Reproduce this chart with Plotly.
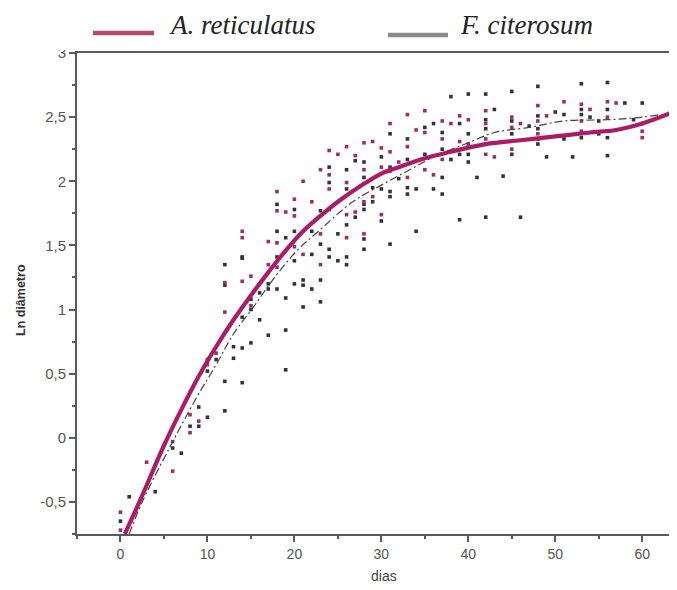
import plotly.graph_objects as go

# ---- fitted curves ----
a_curve_days = [0.5, 2.5, 5, 7, 9, 11, 13, 15, 17, 19, 21, 23, 25, 28, 30, 32, 35, 38, 42, 46, 50, 54, 57, 60, 64]
a_curve_ln = [-0.75, -0.45, -0.06, 0.22, 0.48, 0.71, 0.92, 1.11, 1.29, 1.46, 1.61, 1.73, 1.84, 1.98, 2.06, 2.11,
              2.18, 2.23, 2.29, 2.32, 2.35, 2.38, 2.40, 2.45, 2.55]

f_curve_days = [1, 2.5, 5.7, 8.8, 11, 13, 15.3, 17.5, 20.3, 22.6, 26.7, 30, 33, 36, 40, 43, 47, 51, 56, 60, 62]
f_curve_ln = [-0.75, -0.50, -0.07, 0.32, 0.57, 0.81, 1.02, 1.23, 1.46, 1.60, 1.84, 1.97, 2.08, 2.19, 2.30, 2.38,
              2.42, 2.47, 2.48, 2.50, 2.52]

# ---- observations: A. reticulatus ----
a_days = [0, 0, 3, 6, 6, 8, 8, 9, 10, 11, 12, 12, 14, 14, 14, 15, 15, 17, 17, 18, 18, 18, 18, 19,
          20, 20, 20, 21, 21, 22, 23, 23, 23, 24, 24, 24, 25, 26, 26, 26, 26, 27, 27, 28, 28, 28, 28,
          29, 29, 30, 30, 30, 31, 31, 31, 32, 33, 33, 33, 34, 35, 35, 35, 36, 37, 37, 37, 38, 39, 39,
          40, 40, 42, 42, 42, 42, 43, 45, 45, 45, 46, 48, 48, 48, 49, 51, 53, 53, 53, 54, 56, 56, 56,
          57, 60, 60, 60]
a_ln = [-0.58, -0.72, -0.19, -0.03, -0.26, 0.18, 0.04, 0.13, 0.57, 0.66, 0.98, 1.21, 1.61, 1.56, 1.22,
        1.26, 1.03, 1.53, 1.35, 1.92, 1.77, 1.52, 1.33, 1.76, 1.86, 1.73, 1.49, 2.00, 1.43, 1.84,
        2.09, 1.59, 1.35, 2.24, 2.05, 1.94, 2.21, 2.27, 1.99, 1.74, 1.56, 2.20, 1.76, 2.30, 2.09, 1.84,
        1.59, 2.31, 1.88, 2.26, 2.11, 1.74, 2.45, 2.23, 2.08, 2.15, 2.52, 2.27, 2.03, 2.40, 2.55, 2.38,
        2.09, 2.05, 2.47, 2.33, 2.17, 2.45, 2.51, 2.31, 2.48, 2.29, 2.55, 2.45, 2.33, 2.21, 2.19, 2.50,
        2.42, 2.25, 2.45, 2.59, 2.47, 2.37, 2.51, 2.62, 2.60, 2.47, 2.39, 2.56, 2.62, 2.50, 2.39, 2.61,
        2.45, 2.39, 2.34]

# ---- observations: F. citerosum ----
f_days = [0, 1, 4, 6, 7, 8, 9, 9, 10, 10, 10, 11, 12, 12, 12, 12, 13, 13, 14, 14, 14, 14, 14,
          15, 15, 15, 16, 16, 17, 17, 17, 18, 18, 18, 18, 19, 19, 19, 19, 20, 20, 20, 20, 21, 21, 21,
          22, 22, 22, 23, 23, 23, 23, 24, 24, 24, 24, 24, 25, 25, 26, 26, 26, 26, 26, 27, 27,
          28, 28, 28, 28, 28, 28, 29, 29, 30, 30, 30, 31, 31, 31, 31, 31, 32, 33, 33, 33, 33, 34, 34,
          35, 35, 36, 36, 37, 37, 37, 37, 38, 38, 39, 39, 39, 40, 40, 40, 40, 41, 42, 42, 42, 42, 42,
          43, 44, 45, 45, 45, 45, 46, 47, 48, 48, 48, 48, 48, 49, 50, 51, 51, 52, 53, 53, 53, 53,
          54, 55, 55, 56, 56, 56, 56, 58, 59, 60]
f_ln = [-0.65, -0.46, -0.42, -0.08, -0.12, 0.09, 0.24, 0.09, 0.16, 0.52, 0.61, 0.61, 0.44, 0.21, 1.35,
        1.19, 0.71, 0.62, 0.94, 0.70, 0.43, 1.41, 1.40, 0.74, 1.08, 1.00, 1.13, 0.92, 0.80, 1.20, 1.16,
        1.82, 1.61, 1.41, 1.16, 1.56, 1.09, 0.84, 0.53, 1.78, 1.61, 1.38, 1.20, 1.23, 1.19, 1.02,
        1.61, 1.43, 1.16, 1.77, 1.51, 1.23, 1.06, 2.11, 1.99, 1.78, 1.47, 1.41, 1.38, 1.59,
        2.09, 1.94, 1.66, 1.41, 1.35, 2.16, 1.72, 2.15, 2.03, 1.82, 1.78, 1.55, 1.47, 1.95, 1.84,
        2.19, 1.94, 1.69, 2.37, 2.11, 1.92, 1.88, 1.51, 2.02, 2.33, 2.17, 1.95, 1.90, 1.94, 1.61,
        2.42, 2.21, 2.45, 1.94, 2.38, 2.25, 2.03, 1.90, 2.66, 2.17, 2.45, 2.21, 1.70, 2.68, 2.37, 2.21,
        2.15, 2.03, 2.68, 2.48, 2.41, 2.29, 1.72, 2.56, 2.04, 2.70, 2.47, 2.37, 2.21, 1.72, 2.43,
        2.74, 2.51, 2.41, 2.33, 2.29, 2.19, 2.54, 2.52, 2.33, 2.19, 2.76, 2.56, 2.52, 2.34, 2.50,
        2.47, 2.37, 2.77, 2.56, 2.34, 2.20, 2.61, 2.48, 2.61]

species = ["A. reticulatus", "F. citerosum"]
x_tickvals = [0, 10, 20, 30, 40, 50, 60]
y_tickvals = [-0.5, 0, 0.5, 1, 1.5, 2, 2.5, 3]
y_ticktext = ["-0,5", "0", "0,5", "1", "1,5", "2", "2,5", "3"]

A_COL = "#ad1a66"
A_PT = "#9e2d64"
F_PT = "#333333"
AX = "#5a5a5a"
SANS = "Liberation Sans, Arial, sans-serif"
SERIF = "Liberation Serif, Times New Roman, serif"

fig = go.Figure()
fig.add_trace(go.Scatter(x=f_days, y=f_ln, mode="markers", showlegend=False,
                         marker=dict(symbol="square", size=3.6, color=F_PT, line=dict(width=0))))
fig.add_trace(go.Scatter(x=a_days, y=a_ln, mode="markers", showlegend=False,
                         marker=dict(symbol="square", size=3.6, color=A_PT, line=dict(width=0))))
fig.add_trace(go.Scatter(x=f_curve_days, y=f_curve_ln, mode="lines", name=species[1], showlegend=False,
                         line=dict(color="#444444", width=1.2, dash="8px,3px,2px,3px", shape="spline")))
fig.add_trace(go.Scatter(x=a_curve_days, y=a_curve_ln, mode="lines", name=species[0], showlegend=False,
                         line=dict(color=A_COL, width=4.2, shape="spline")))

# page body has an 8px margin: figure sits at (8, 8) in the window
OFF = 8
W, H = 677 - OFF, 590 - OFF
PL, PR, PT, PB = 77, 677, 53, 534          # plot area in window pixels
L, T = PL - OFF, PT - OFF
R = W - (PR - OFF)
B = H - (PB - OFF)
pw, ph = PR - PL, PB - PT


def px(xw):
    return (xw - PL) / pw


def py(yw):
    return (PB - yw) / ph


shapes = [
    dict(type="rect", xref="paper", yref="paper", x0=-0.2, x1=1.05, y0=py(50), y1=py(-10),
         fillcolor="white", line=dict(width=0), layer="above"),
    dict(type="line", xref="paper", yref="paper", x0=px(93), x1=px(154), y0=py(33), y1=py(33),
         line=dict(color="#b34a6e", width=4.5), layer="above"),
    dict(type="line", xref="paper", yref="paper", x0=px(388), x1=px(448), y0=py(35), y1=py(35),
         line=dict(color="#8c8c8c", width=4.5), layer="above"),
]

annotations = [
    dict(text=species[0], xref="paper", yref="paper", x=px(168), y=py(25), xanchor="left", yanchor="middle",
         showarrow=False, borderpad=0, font=dict(family=SERIF, size=27, color="#222222", style="italic")),
    dict(text=species[1], xref="paper", yref="paper", x=px(459), y=py(25), xanchor="left", yanchor="middle",
         showarrow=False, borderpad=0, font=dict(family=SERIF, size=27, color="#222222", style="italic")),
    dict(text="<b>Ln diâmetro</b>", xref="paper", yref="paper", x=px(21), y=py(300), textangle=-90,
         xanchor="center", yanchor="middle", showarrow=False, font=dict(family=SANS, size=12.5, color="#333333")),
    dict(text="dias", xref="paper", yref="paper", x=px(384), y=py(576), xanchor="center", yanchor="middle",
         showarrow=False, font=dict(family=SANS, size=14, color="#444444")),
]

fig.update_layout(
    width=W, height=H,
    margin=dict(l=L, r=R, t=T, b=B, pad=0),
    paper_bgcolor="white", plot_bgcolor="white",
    separators=", ",
    shapes=shapes, annotations=annotations,
    showlegend=False,
)
fig.update_xaxes(range=[-5, 64], tickmode="array", tickvals=x_tickvals, ticks="outside", ticklen=6,
                 tickwidth=1.5, tickcolor=AX, showline=True, linecolor=AX, linewidth=2, mirror=True,
                 showgrid=False, zeroline=False, tickfont=dict(family=SANS, size=14, color="#555555"),
                 minor=dict(tickmode="linear", tick0=5, dtick=10, ticks="outside", ticklen=3, tickcolor=AX,
                            showgrid=False))
fig.update_yaxes(range=[-0.75, 3], tickmode="array", tickvals=y_tickvals, ticktext=y_ticktext,
                 ticks="outside", ticklen=6, tickwidth=1.5, tickcolor=AX, showline=True, linecolor=AX,
                 linewidth=2, showgrid=False, zeroline=False,
                 tickfont=dict(family=SANS, size=15, color="#555555"),
                 minor=dict(tickmode="linear", tick0=0.25, dtick=0.5, ticks="outside", ticklen=3, tickcolor=AX,
                            showgrid=False))

fig.write_html("out.html")
